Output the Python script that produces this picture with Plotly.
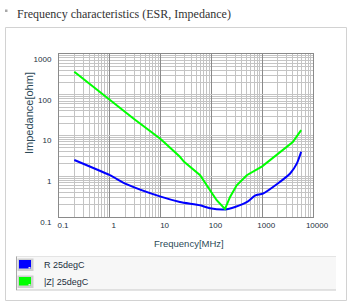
import plotly.graph_objects as go

# ---- data ----
freq_z = [0.2, 1, 3, 10, 24, 29, 60, 94, 127, 185, 233, 315, 497, 1000, 2250, 4000, 5850]
z_25 = [366, 75, 25.5, 8.2, 3.0, 2.26, 1.06, 0.455, 0.258, 0.157, 0.311, 0.60, 1.06, 1.75, 3.8, 6.9, 13.5]

freq_r = [0.2, 1, 2.13, 9.7, 24, 60, 94, 185, 292, 504, 723, 1040, 2060, 3550, 4820, 5850]
r_25 = [2.5, 1.06, 0.64, 0.32, 0.234, 0.194, 0.164, 0.153, 0.176, 0.234, 0.336, 0.377, 0.676, 1.17, 2.07, 4.0]

x_ticks = [0.1, 1, 10, 100, 1000, 10000]
x_labels = ["0.1", "1", "10", "100", "1000", "10000"]
y_ticks = [0.1, 1, 10, 100, 1000]
y_labels = ["0.1", "1", "10", "100", "1000"]

series_names = ["R 25degC", "|Z| 25degC"]
series_colors = ["#0000ff", "#00ff00"]

W, H = 361, 308
L, R, T, B = 59, 313, 54, 217  # plot area in pixels


def px(x):
    return (x - L) / (R - L)


def py(y):
    return (B - y) / (B - T)


fig = go.Figure()
fig.add_trace(go.Scatter(x=freq_r, y=r_25, mode="lines", name=series_names[0],
                         line=dict(color=series_colors[0], width=2, shape="spline", smoothing=0.6)))
fig.add_trace(go.Scatter(x=freq_z, y=z_25, mode="lines", name=series_names[1],
                         line=dict(color=series_colors[1], width=2)))

SANS = "Liberation Sans"
tick_font = dict(family=SANS, size=8, color="#1c3040")

fig.update_xaxes(type="log", range=[-1, 4], tickvals=x_ticks, ticktext=x_labels,
                 showgrid=True, gridcolor="#8a8a8a", gridwidth=1,
                 minor=dict(dtick="D1", showgrid=True, gridcolor="#c4c4c4", gridwidth=1, ticks=""),
                 showline=True, linecolor="#8a8a8a", linewidth=1, mirror=True,
                 ticks="", tickfont=tick_font, ticklabelshift=4, ticklabelstandoff=0,
                 zeroline=False, fixedrange=True)
fig.update_yaxes(type="log", range=[-1, 3], tickvals=y_ticks, ticktext=y_labels,
                 showgrid=True, gridcolor="#c4c4c4", gridwidth=1,
                 minor=dict(dtick="D1", showgrid=True, gridcolor="#c4c4c4", gridwidth=1, ticks=""),
                 showline=True, linecolor="#8a8a8a", linewidth=1, mirror=True,
                 ticks="", tickfont=tick_font, ticklabelshift=5, ticklabelstandoff=5,
                 zeroline=False, fixedrange=True)

shapes = []
# outer container
shapes.append(dict(type="rect", xref="paper", yref="paper", x0=px(5.5), x1=px(346.5), y0=py(300.5), y1=py(27.5),
                   line=dict(color="#d2d2d2", width=1), fillcolor="rgba(0,0,0,0)", layer="below"))
# title bullet
shapes.append(dict(type="rect", xref="paper", yref="paper", x0=px(5), x1=px(7.5), y0=py(12), y1=py(9.5),
                   line=dict(width=0), fillcolor="#a8a8a8"))
# legend box
shapes.append(dict(type="rect", xref="paper", yref="paper", x0=px(16), x1=px(336), y0=py(290), y1=py(256.5),
                   line=dict(width=0), fillcolor="#f7f7f7"))
shapes.append(dict(type="line", xref="paper", yref="paper", x0=px(16), x1=px(336), y0=py(256.5), y1=py(256.5),
                   line=dict(color="#e4e4e4", width=1)))
shapes.append(dict(type="line", xref="paper", yref="paper", x0=px(16), x1=px(336), y0=py(290), y1=py(290),
                   line=dict(color="#c8c8c8", width=1)))
shapes.append(dict(type="line", xref="paper", yref="paper", x0=px(16.5), x1=px(16.5), y0=py(290), y1=py(256.5),
                   line=dict(color="#a8a8a8", width=1)))

annotations = []
legend_rows = [264.5, 281.5]
for name, color, yc in zip(series_names, series_colors, legend_rows):
    shapes.append(dict(type="rect", xref="paper", yref="paper", x0=px(17.5), x1=px(33.5), y0=py(yc + 6.5), y1=py(yc - 6),
                       line=dict(width=0), fillcolor="#cfcfcf"))
    shapes.append(dict(type="rect", xref="paper", yref="paper", x0=px(19), x1=px(31), y0=py(yc + 4), y1=py(yc - 4.5),
                       line=dict(width=0), fillcolor=color))
    shapes.append(dict(type="rect", xref="paper", yref="paper", x0=px(28.5), x1=px(30.5), y0=py(yc + 4), y1=py(yc + 2.5),
                       line=dict(width=0), fillcolor="#e8e8e8"))
    annotations.append(dict(text=name, xref="paper", yref="paper", x=px(41.5), y=py(yc + 0.5),
                            xanchor="left", yanchor="middle", showarrow=False,
                            font=dict(family=SANS, size=9, color="#1c3040")))

annotations.append(dict(text="Frequency characteristics (ESR, Impedance)", xref="paper", yref="paper",
                        x=px(14.5), y=py(13.5), xanchor="left", yanchor="middle", showarrow=False,
                        font=dict(family="Liberation Serif, serif", size=12, color="#333333")))
annotations.append(dict(text="Frequency[MHz]", xref="paper", yref="paper", x=px(188.5), y=py(243),
                        xanchor="center", yanchor="middle", showarrow=False,
                        font=dict(family=SANS, size=9.5, color="#2c4a58")))
annotations.append(dict(text="Impedance[ohm]", xref="paper", yref="paper", x=px(28.5), y=py(113.5),
                        xanchor="center", yanchor="middle", showarrow=False, textangle=-90,
                        font=dict(family=SANS, size=11, color="#2c4a58")))

fig.update_layout(width=W, height=H, margin=dict(l=L, r=W - R, t=T, b=H - B),
                  paper_bgcolor="white", plot_bgcolor="white", showlegend=False,
                  shapes=shapes, annotations=annotations)

fig.write_html("out.html", config=dict(displayModeBar=False, staticPlot=True))
